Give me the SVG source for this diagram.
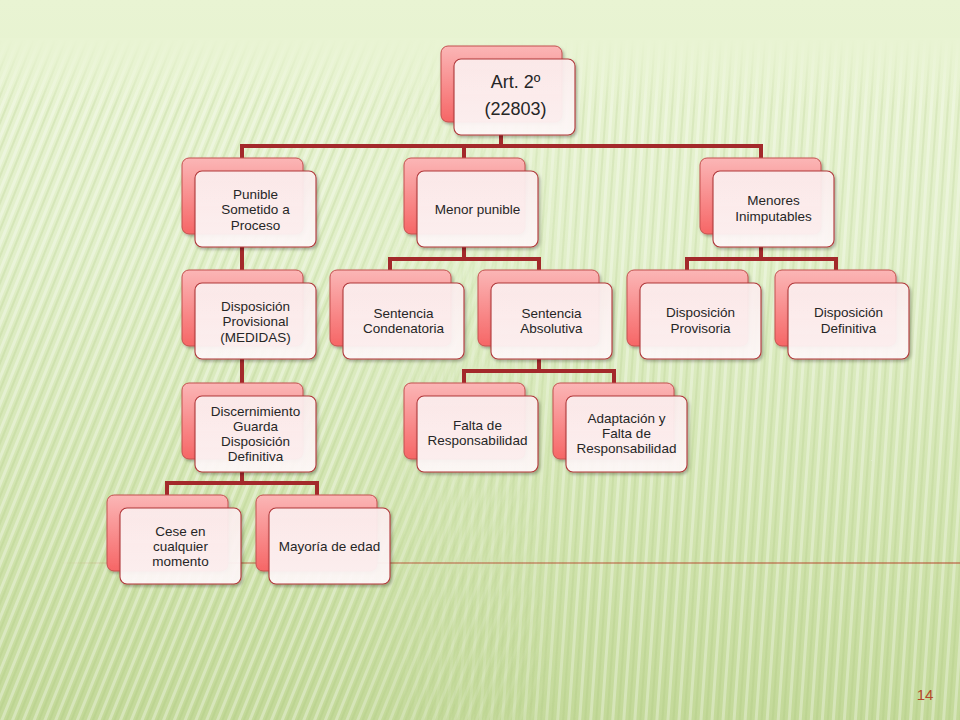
<svg xmlns="http://www.w3.org/2000/svg" width="960" height="720" viewBox="0 0 960 720">
<defs>
  <linearGradient id="bg" x1="0" y1="0" x2="0" y2="1">
    <stop offset="0" stop-color="#e9f4d3"/>
    <stop offset="0.35" stop-color="#e1efc9"/>
    <stop offset="0.75" stop-color="#d0e3ad"/>
    <stop offset="1" stop-color="#c3d999"/>
  </linearGradient>
  <linearGradient id="topfade" x1="0" y1="0" x2="0" y2="1">
    <stop offset="0" stop-color="#e9f4d3" stop-opacity="1"/>
    <stop offset="1" stop-color="#e9f4d3" stop-opacity="0"/>
  </linearGradient>
  <pattern id="stripesA" width="10" height="10" patternUnits="userSpaceOnUse" patternTransform="rotate(22)">
    <rect x="0" y="0" width="3" height="10" fill="#ffffff" opacity="0.32"/>
    <rect x="5" y="0" width="2" height="10" fill="#9dbb6c" opacity="0.18"/>
  </pattern>
  <pattern id="stripesB" width="11" height="10" patternUnits="userSpaceOnUse" patternTransform="rotate(4)">
    <rect x="0" y="0" width="3" height="10" fill="#ffffff" opacity="0.3"/>
    <rect x="6" y="0" width="2" height="10" fill="#9dbb6c" opacity="0.16"/>
  </pattern>
  <linearGradient id="fadeR" x1="0" y1="0" x2="1" y2="0">
    <stop offset="0" stop-color="#fff" stop-opacity="1"/>
    <stop offset="0.6" stop-color="#fff" stop-opacity="1"/>
    <stop offset="1" stop-color="#fff" stop-opacity="0"/>
  </linearGradient>
  <linearGradient id="fadeL" x1="0" y1="0" x2="1" y2="0">
    <stop offset="0" stop-color="#fff" stop-opacity="0"/>
    <stop offset="0.35" stop-color="#fff" stop-opacity="1"/>
    <stop offset="1" stop-color="#fff" stop-opacity="1"/>
  </linearGradient>
  <mask id="mA" maskUnits="userSpaceOnUse" x="0" y="0" width="960" height="720">
    <rect x="0" y="40" width="560" height="680" fill="url(#fadeR)"/>
  </mask>
  <mask id="mB" maskUnits="userSpaceOnUse" x="0" y="0" width="960" height="720">
    <rect x="380" y="40" width="580" height="680" fill="url(#fadeL)"/>
  </mask>
  <linearGradient id="rule" x1="60" y1="0" x2="960" y2="0" gradientUnits="userSpaceOnUse">
    <stop offset="0" stop-color="#b5472b" stop-opacity="0"/>
    <stop offset="0.2" stop-color="#b5472b" stop-opacity="0.8"/>
    <stop offset="1" stop-color="#b5472b" stop-opacity="1"/>
  </linearGradient>
  <linearGradient id="backG" x1="0" y1="0" x2="0" y2="1">
    <stop offset="0" stop-color="#fbb6b6"/>
    <stop offset="1" stop-color="#f66666"/>
  </linearGradient>
  <linearGradient id="frontG" x1="0" y1="0" x2="0" y2="1">
    <stop offset="0" stop-color="#fdeeee"/>
    <stop offset="1" stop-color="#fff9f9"/>
  </linearGradient>
  <filter id="sh" x="-10%" y="-10%" width="125%" height="130%">
    <feDropShadow dx="1.5" dy="2" stdDeviation="1.5" flood-color="#000" flood-opacity="0.3"/>
  </filter>
  <symbol id="node" overflow="visible">
    <rect x="0" y="0" width="121" height="76" rx="7" class="back"/>
    <rect x="13" y="13" width="121" height="76" rx="7" class="front"/>
  </symbol>
</defs>
<style>
  .back { fill: url(#backG); stroke: #c4504e; stroke-width: 1; filter: url(#sh); }
  .front { fill: url(#frontG); fill-opacity: 0.93; stroke: #b0383a; stroke-width: 1.1; filter: url(#sh); }
  .t { font-family: "Liberation Sans", Arial, sans-serif; font-size: 13.5px; fill: #262626; text-anchor: middle; }
  .big { font-size: 18px; }
  .conn { fill: none; stroke: #a3292b; stroke-width: 4; stroke-linejoin: miter; }
</style>

<!-- background -->
<rect x="0" y="0" width="960" height="720" fill="url(#bg)"/>
<rect x="0" y="40" width="960" height="680" fill="url(#stripesA)" mask="url(#mA)"/>
<rect x="0" y="40" width="960" height="680" fill="url(#stripesB)" mask="url(#mB)"/>
<rect x="0" y="38" width="960" height="70" fill="url(#topfade)"/>
<line x1="60" y1="563" x2="960" y2="563" stroke="url(#rule)" stroke-width="1.2"/>
<text x="925" y="700" style="font-family:'Liberation Sans',Arial,sans-serif;font-size:15px;fill:#b5472b;text-anchor:middle">14</text>

<!-- connectors -->
<g id="connectors" class="conn">
  <path d="M501,134 V146"/>
  <path d="M242,158 V146 H761 V158"/>
  <path d="M464,146 V158"/>
  <path d="M242,247 V270"/>
  <path d="M242,359 V383"/>
  <path d="M242,471 V483"/>
  <path d="M167,495 V483 H317 V495"/>
  <path d="M464,247 V259"/>
  <path d="M390,270 V259 H539 V270"/>
  <path d="M539,359 V371"/>
  <path d="M464,383 V371 H614 V383"/>
  <path d="M761,247 V259"/>
  <path d="M687,270 V259 H836 V270"/>
</g>

<!-- nodes -->
<g id="n-root">
  <use href="#node" x="441" y="46"/>
  <text class="t big" x="515.5" y="88">Art. 2º</text>
  <text class="t big" x="515.5" y="115">(22803)</text>
</g>
<g id="n-punible">
  <use href="#node" x="182" y="158"/>
  <text class="t" x="255.5" y="198.5">Punible</text>
  <text class="t" x="255.5" y="214">Sometido a</text>
  <text class="t" x="255.5" y="229.5">Proceso</text>
</g>
<g id="n-menor-punible">
  <use href="#node" x="404" y="158"/>
  <text class="t" x="477.5" y="214">Menor punible</text>
</g>
<g id="n-menores-inimputables">
  <use href="#node" x="700" y="158"/>
  <text class="t" x="773.5" y="205">Menores</text>
  <text class="t" x="773.5" y="220.5">Inimputables</text>
</g>
<g id="n-disp-provisional">
  <use href="#node" x="182" y="270"/>
  <text class="t" x="255.5" y="310.5">Disposición</text>
  <text class="t" x="255.5" y="326">Provisional</text>
  <text class="t" x="255.5" y="341.5">(MEDIDAS)</text>
</g>
<g id="n-sent-condenatoria">
  <use href="#node" x="330" y="270"/>
  <text class="t" x="403.5" y="317.5">Sentencia</text>
  <text class="t" x="403.5" y="333">Condenatoria</text>
</g>
<g id="n-sent-absolutiva">
  <use href="#node" x="478" y="270"/>
  <text class="t" x="551.5" y="317.5">Sentencia</text>
  <text class="t" x="551.5" y="333">Absolutiva</text>
</g>
<g id="n-disp-provisoria">
  <use href="#node" x="627" y="270"/>
  <text class="t" x="700.5" y="317">Disposición</text>
  <text class="t" x="700.5" y="332.5">Provisoria</text>
</g>
<g id="n-disp-definitiva">
  <use href="#node" x="775" y="270"/>
  <text class="t" x="848.5" y="317">Disposición</text>
  <text class="t" x="848.5" y="332.5">Definitiva</text>
</g>
<g id="n-discernimiento">
  <use href="#node" x="182" y="383"/>
  <text class="t" x="255.5" y="416">Discernimiento</text>
  <text class="t" x="255.5" y="431">Guarda</text>
  <text class="t" x="255.5" y="446">Disposición</text>
  <text class="t" x="255.5" y="461">Definitiva</text>
</g>
<g id="n-falta">
  <use href="#node" x="404" y="383"/>
  <text class="t" x="477.5" y="430">Falta de</text>
  <text class="t" x="477.5" y="445">Responsabilidad</text>
</g>
<g id="n-adaptacion">
  <use href="#node" x="553" y="383"/>
  <text class="t" x="626.5" y="423">Adaptación y</text>
  <text class="t" x="626.5" y="438">Falta de</text>
  <text class="t" x="626.5" y="453">Responsabilidad</text>
</g>
<g id="n-cese">
  <use href="#node" x="107" y="495"/>
  <text class="t" x="180.5" y="536">Cese en</text>
  <text class="t" x="180.5" y="551">cualquier</text>
  <text class="t" x="180.5" y="566">momento</text>
</g>
<g id="n-mayoria">
  <use href="#node" x="256" y="495"/>
  <text class="t" x="329.5" y="551">Mayoría de edad</text>
</g>
</svg>
